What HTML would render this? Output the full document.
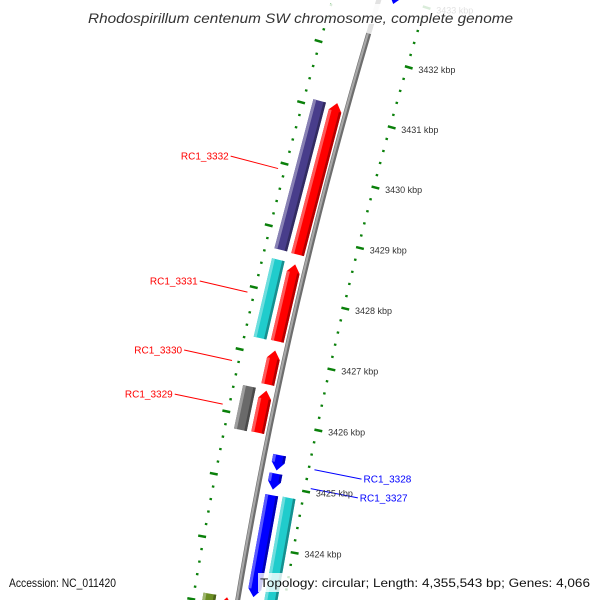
<!DOCTYPE html>
<html><head><meta charset="utf-8"><style>
html,body{margin:0;padding:0;background:#fff;width:600px;height:600px;overflow:hidden;}
svg{display:block;font-family:"Liberation Sans",sans-serif;}
</style></head><body>
<svg id="map" width="600" height="600" viewBox="0 0 600 600" xmlns="http://www.w3.org/2000/svg">
<rect x="0" y="0" width="600" height="600" fill="#fff"/>
<g id="ticks"></g>
<g id="backbone"></g>
<g id="features"></g>
<g id="labels"></g>
<g id="ticklabels"></g>
<rect x="84" y="4" width="434" height="20" fill="#fff" fill-opacity="0.85"/>
<text x="88" y="23" textLength="425" lengthAdjust="spacingAndGlyphs" font-size="14" font-style="italic" fill="#333">Rhodospirillum centenum SW chromosome, complete genome</text>
<text x="9" y="587" textLength="107" lengthAdjust="spacingAndGlyphs" font-size="12" fill="#111">Accession: NC_011420</text>
<rect x="258" y="573" width="336" height="19" fill="#fff" fill-opacity="0.8"/>
<text x="260" y="587" textLength="330" lengthAdjust="spacingAndGlyphs" font-size="12" fill="#111">Topology: circular; Length: 4,355,543 bp; Genes: 4,066</text>
</svg>
<script>
// ---- data ----
const featNames  = ["RC1_3332a","RC1_3332","RC1_3331a","RC1_3331","RC1_3330","RC1_3329a","RC1_3329","RC1_3328","RC1_3327","RC1_3326","RC1_3326a","RC1_top","RC1_3325a","RC1_3325"];
const featStart  = [3428.67,3428.66,3427.24,3427.25,3426.55,3425.76,3425.77,3425.24,3424.93,3423.19,3422.8,3432.9,3422.8,3422.8];
const featEnd    = [3431.10,3431.14,3428.51,3428.50,3427.10,3426.46,3426.45,3425.49,3425.19,3424.84,3424.85,3434.0,3423.13,3423.12];
const featStrand = [0,1,0,1,1,0,1,-1,-1,-1,0,-1,0,1];
const featRing   = [28.5,11,28.5,11,11,28.5,11,-15,-15,-15,-32.5,-15,28.5,11];
const featColor  = ["#483d8b","#ff0000","#20cccc","#ff0000","#ff0000","#6a6a6a","#ff0000","#0000ff","#0000ff","#0000ff","#20cccc","#0000ff","#6b8e23","#ff0000"];
const labelText  = ["RC1_3332","RC1_3331","RC1_3330","RC1_3329","RC1_3328","RC1_3327"];
const labelColor = ["#f00","#f00","#f00","#f00","#00f","#00f"];
const labelKbp   = [3429.9,3427.9,3426.8,3426.1,3425.37,3425.06];
const labelSide  = [1,1,1,1,-1,-1];
const majorTicks = [3423,3424,3425,3426,3427,3428,3429,3430,3431,3432,3433];
const tickLabels = ["3423 kbp","3424 kbp","3425 kbp","3426 kbp","3427 kbp","3428 kbp","3429 kbp","3430 kbp","3431 kbp","3432 kbp","3433 kbp"];
const minorStep = 0.2;
// ---- geometry ----
const CX=4941, CY=1389, R=4769;
function ang(k){return (195.50+(k-3431)*0.757)*Math.PI/180;}
function pt(k,d){const a=ang(k),r=R+d;return [CX+r*Math.cos(a),CY+r*Math.sin(a)];}
function P(arr){return arr.map(p=>p[0].toFixed(2)+","+p[1].toFixed(2)).join(" ");}
const NS="http://www.w3.org/2000/svg";
function mk(tag,attrs,parent){const e=document.createElementNS(NS,tag);for(const k in attrs)e.setAttribute(k,attrs[k]);parent.appendChild(e);return e;}
function shade(c,f){const n=parseInt(c.slice(1),16);let r=n>>16,g=(n>>8)&255,b=n&255;
 if(f>0){r+= (255-r)*f;g+=(255-g)*f;b+=(255-b)*f;}else{r*=1+f;g*=1+f;b*=1+f;}
 return "rgb("+[r,g,b].map(v=>Math.round(v)).join(",")+")";}
// ticks
const tg=document.getElementById('ticks');
for(let i=0;i<=60;i++){
 const k=3422.6+i*minorStep;
 const isMajor=Math.abs(k-Math.round(k))<0.01;
 const e1=isMajor?[pt(k,42),pt(k,50)]:[pt(k,43),pt(k,45.5)];
 let l=mk('line',{x1:e1[0][0],y1:e1[0][1],x2:e1[1][0],y2:e1[1][1],stroke:"#0a800a","stroke-width":isMajor?2.5:2.2},tg);
 
 
 const e2=isMajor?[pt(k,-44),pt(k,-52)]:[pt(k,-45),pt(k,-47.5)];
 let l2=mk('line',{x1:e2[0][0],y1:e2[0][1],x2:e2[1][0],y2:e2[1][1],stroke:"#0a800a","stroke-width":isMajor?2.5:2.2},tg);
 
 
}
const tlg=document.getElementById('ticklabels');
majorTicks.forEach((k,i)=>{
 const p=pt(k,-58);
 let t=mk('text',{x:p[0].toFixed(1),y:(p[1]+3).toFixed(1),"font-size":"9","fill":"#333"},tlg);
 t.textContent=tickLabels[i];
 
 
});
// backbone
const bb=document.getElementById('backbone');
function arcPts(k0,k1,d){const a=[];for(let i=0;i<=20;i++)a.push(pt(k0+(k1-k0)*i/20,d));return a;}
let b1=mk('polyline',{points:P(arcPts(3422.5,3432.34,0)),fill:"none",stroke:"#6e6e6e","stroke-width":5},bb);


let b2=mk('polyline',{points:P(arcPts(3422.5,3432.34,0.8)),fill:"none",stroke:"#a8a8a8","stroke-width":2.2},bb);


let b3=mk('polyline',{points:P(arcPts(3432.34,3433.6,0)),fill:"none",stroke:"#e2e2e2","stroke-width":5},bb);


// features
const fg=document.getElementById('features');
const W=13, H=0.13;
featNames.forEach((nm,i)=>{
 const s=featStart[i],e=featEnd[i],d=featRing[i],st=featStrand[i],c=featColor[i];
 const o=d+W/2,n=d-W/2;
 let pts,bs=s,be=e;
 if(st===1){be=e-H;pts=[pt(s,n),pt(be,n),pt(e,d),pt(be,o),pt(s,o)];}
 else if(st===-1){bs=s+H;pts=[pt(bs,n),pt(e,n),pt(e,o),pt(bs,o),pt(s,d)];}
 else pts=[pt(s,n),pt(e,n),pt(e,o),pt(s,o)];
 const g=mk('g',{},fg);
 
 
 mk('polygon',{points:P(pts),fill:c},g);
 mk('polygon',{points:P([pt(bs,o),pt(be,o),pt(be,o-3),pt(bs,o-3)]),fill:shade(c,0.35)},g);
 mk('polygon',{points:P([pt(bs,n),pt(be,n),pt(be,n+2.5),pt(bs,n+2.5)]),fill:shade(c,-0.3)},g);
});
// gene labels
const lg=document.getElementById('labels');
labelText.forEach((txt,i)=>{
 const k=labelKbp[i],sd=labelSide[i];
 const a=sd>0?pt(k,51):pt(k,-52), b=sd>0?pt(k,100):pt(k,-100);
 let l=mk('line',{x1:a[0],y1:a[1],x2:b[0],y2:b[1],stroke:labelColor[i],"stroke-width":1},lg);
 
 
 let t=mk('text',{x:(b[0]+(sd>0?-2:2)).toFixed(1),y:(b[1]+3.5).toFixed(1),"font-size":"10","fill":labelColor[i],"text-anchor":sd>0?"end":"start"},lg);
 t.textContent=txt;
 
 
});
</script>
</body></html>
